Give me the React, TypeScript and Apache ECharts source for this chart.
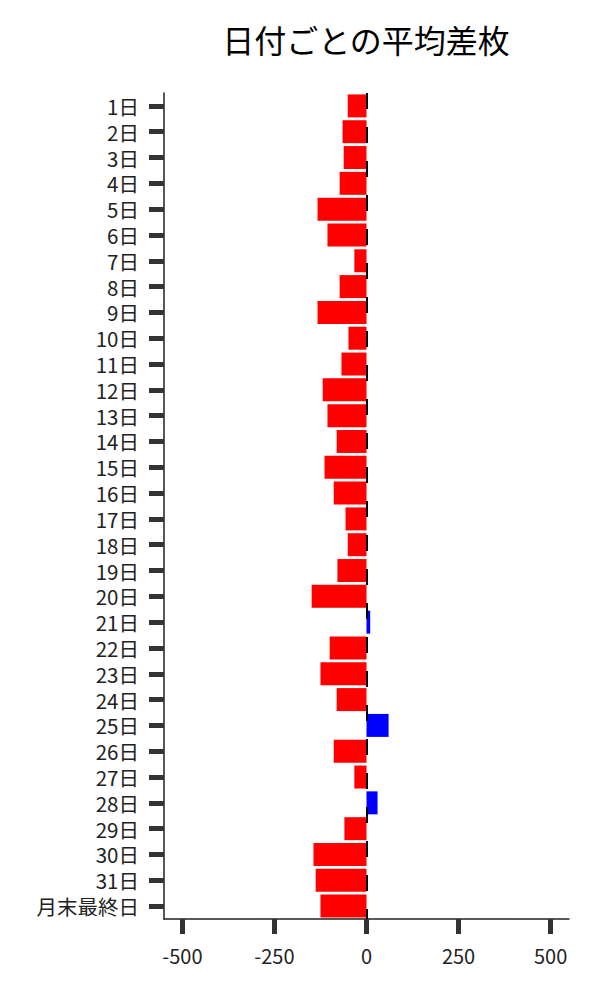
import React, { useEffect, useRef } from "react";
import * as echarts from "echarts";

const categories: string[] = [
  "1日", "2日", "3日", "4日", "5日", "6日", "7日", "8日", "9日", "10日",
  "11日", "12日", "13日", "14日", "15日", "16日", "17日", "18日", "19日", "20日",
  "21日", "22日", "23日", "24日", "25日", "26日", "27日", "28日", "29日", "30日",
  "31日", "月末最終日",
];

const averageDiff: number[] = [
  -51, -65, -62, -73, -133, -106, -33, -73, -133, -49,
  -68, -119, -106, -81, -114, -89, -57, -51, -79, -149,
  10, -100, -125, -81, 60, -89, -33, 30, -60, -144,
  -138, -125,
];

const xTicks: number[] = [-500, -250, 0, 250, 500];

const titleText = "日付ごとの平均差枚";
const FONT = "'Noto Sans CJK JP', 'Noto Sans', sans-serif";

export default function App() {
  const ref = useRef<HTMLDivElement>(null);
  useEffect(() => {
    if (!ref.current) return;
    const chart = echarts.init(ref.current, undefined, { renderer: "svg" });
    chart.setOption({
      animation: false,
      backgroundColor: "#ffffff",
      textStyle: { fontFamily: FONT },
      title: {
        text: titleText,
        left: 361,
        top: 18,
        textAlign: "center",
        textStyle: { fontSize: 32, fontWeight: "normal", color: "#000", fontFamily: FONT },
      },
      grid: { left: 164, right: 31, top: 93, bottom: 81, containLabel: false },
      xAxis: {
        type: "value",
        min: -550,
        max: 550,
        axisLine: { show: true, onZero: false, lineStyle: { color: "#222", width: 1.5 } },
        axisTick: {
          show: true,
          length: 15,
          customValues: xTicks,
          lineStyle: { color: "#333", width: 5 },
        },
        axisLabel: {
          customValues: xTicks,
          margin: 26,
          fontSize: 20,
          color: "#222",
          fontFamily: FONT,
        },
        splitLine: { show: false },
      },
      yAxis: {
        type: "category",
        data: categories,
        inverse: true,
        axisLine: { show: true, onZero: false, lineStyle: { color: "#222", width: 1.5 } },
        axisTick: {
          show: true,
          alignWithLabel: true,
          interval: 0,
          length: 15,
          lineStyle: { color: "#333", width: 5 },
        },
        axisLabel: {
          interval: 0,
          margin: 25,
          fontSize: 20.5,
          lineHeight: 22,
          color: "#222",
          fontFamily: FONT,
        },
        splitLine: { show: false },
      },
      series: [
        {
          type: "bar",
          data: averageDiff,
          barCategoryGap: "11%",
          itemStyle: {
            color: (p: any) => (p.value >= 0 ? "#0000ff" : "#ff0000"),
          },
          markLine: {
            silent: true,
            symbol: "none",
            label: { show: false },
            lineStyle: { color: "#000", width: 2, type: [16, 18] },
            data: [{ xAxis: 0 }],
          },
        },
      ],
    });
    return () => chart.dispose();
  }, []);
  return (
    <div
      ref={ref}
      style={{ position: "fixed", left: 0, top: 0, width: 600, height: 1000, background: "#fff" }}
    />
  );
}
